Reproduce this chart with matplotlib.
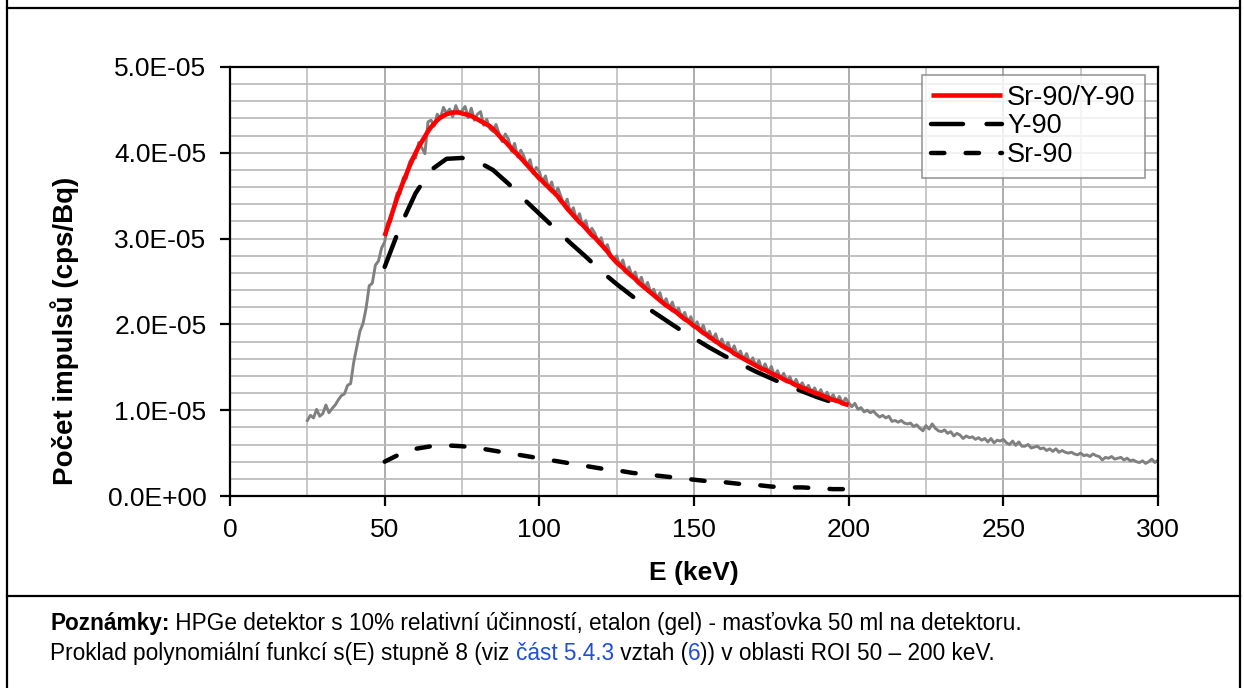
import numpy as np
import matplotlib
matplotlib.use('Agg')
import matplotlib.pyplot as plt
from matplotlib.lines import Line2D
from matplotlib.ticker import MultipleLocator, FuncFormatter

plt.rcParams['font.family'] = ['Liberation Sans', 'DejaVu Sans']

# measured spectrum, 1 keV channels from 25 to 300 keV (values in 1e-6 cps/Bq)
e_meas = np.arange(25, 301)
s_meas = [
    8.8, 9.4, 9.1, 10.1, 9.3, 9.6, 10.6, 9.7, 10.2, 10.6,
    11.2, 11.7, 11.9, 12.9, 13.1, 15.6, 17.4, 19.2, 20.1, 21.9,
    24.5, 24.8, 26.9, 27.4, 28.9,
    29.6, 31.8, 32.0, 33.9, 35.3, 35.2, 37.1, 37.0, 38.9, 39.5,
    39.4, 41.2, 40.6, 39.9, 43.6, 43.8, 43.1, 44.5, 44.0, 45.3,
    44.6, 45.1, 44.2, 45.5, 44.6, 44.9, 45.4, 44.1, 45.2, 43.8,
    44.5, 44.8, 43.2, 43.9, 42.8,
    42.5, 43.3, 42.2, 41.3, 42.2, 41.6, 40.2, 41.1, 39.5, 40.3,
    39.6, 38.5, 39.2, 37.6, 38.3, 37.8, 36.6, 37.3, 35.8, 36.6,
    35.1, 35.9, 34.9, 33.8, 34.6, 33.0, 33.6, 32.2, 32.9, 31.5,
    32.1, 30.7, 31.2, 30.6, 29.6, 30.1, 28.8, 29.3, 28.1, 27.5,
    28.0, 26.8, 27.5, 26.1, 26.7, 25.6, 26.1, 24.8, 25.5, 24.2,
    24.9, 23.7, 24.1, 23.0, 23.7, 22.4, 23.0, 21.9, 22.6, 21.4,
    21.9, 20.8, 21.4, 20.3, 20.9, 19.7, 20.3, 19.2, 19.9, 18.7,
    19.2, 18.2, 18.9, 17.7, 18.3, 17.2, 17.9, 16.8, 17.5, 16.4,
    16.9, 15.9, 16.6, 15.5, 16.1, 15.1, 15.8, 14.7, 15.4, 14.4,
    15.1, 14.0, 14.6, 13.7, 14.3, 13.4, 13.9, 13.0, 13.6, 12.7,
    13.2, 12.4, 12.9, 12.1, 12.6, 11.8, 12.4, 11.5, 12.1, 11.3,
    11.8, 11.0, 11.6, 10.8, 11.4, 10.9,
    10.4, 10.8, 10.1, 10.3, 9.8, 10.0, 9.7, 9.9, 9.5, 9.2,
    9.4, 9.1, 9.3, 8.7, 8.8, 8.6, 8.8, 8.5, 8.4, 8.5,
    8.1, 8.3, 7.9, 7.6, 8.2, 7.8, 8.4, 7.9, 7.6, 7.5,
    7.7, 7.3, 7.5, 7.0, 7.3, 7.1, 6.7, 7.0, 6.8, 6.9,
    6.6, 6.8, 6.5, 6.7, 6.3, 6.7, 6.2, 6.5, 6.4, 6.6,
    6.2, 6.0, 6.4, 5.9, 6.3, 5.8, 5.8, 6.0, 5.6, 5.7,
    5.8, 5.5, 5.6, 5.3, 5.5, 5.2, 5.5, 5.1, 5.3, 5.1,
    5.0, 5.1, 4.9, 4.8, 5.0, 4.7, 4.8, 4.6, 4.9, 4.7,
    4.6, 4.2, 4.5, 4.4, 4.6, 4.3, 4.4, 4.5, 4.2, 4.4,
    4.1, 4.2, 4.0, 3.9, 4.1, 3.8, 4.0, 4.3, 3.9, 4.2,
]

# polynomial fit Sr-90/Y-90, 1 keV steps from 50 to 200 keV
e_fit = np.arange(50, 201)
s_fit = [
    30.3, 31.4, 32.5, 33.6, 34.7, 35.7, 36.6, 37.5, 38.4, 39.2,
    40.0, 40.7, 41.3, 41.9, 42.5, 43.0, 43.4, 43.8, 44.1, 44.3,
    44.5, 44.6, 44.7, 44.7, 44.7, 44.6, 44.5, 44.4, 44.3, 44.1,
    43.9, 43.7, 43.5, 43.3, 43.1, 42.8, 42.4, 42.0, 41.6, 41.3,
    40.9, 40.5, 40.1, 39.8, 39.4, 39.0, 38.6, 38.2, 37.8, 37.4,
    37.0, 36.7, 36.3, 36.0, 35.6, 35.3, 34.9, 34.4, 34.0, 33.5,
    33.1, 32.7, 32.3, 31.9, 31.6, 31.2, 30.8, 30.4, 30.1, 29.7,
    29.3, 28.9, 28.5, 28.0, 27.6, 27.2, 26.9, 26.6, 26.2, 25.9,
    25.6, 25.3, 24.9, 24.6, 24.3, 24.0, 23.7, 23.4, 23.1, 22.8,
    22.5, 22.2, 22.0, 21.7, 21.5, 21.2, 20.9, 20.6, 20.4, 20.1,
    19.8, 19.6, 19.3, 19.0, 18.8, 18.5, 18.3, 18.0, 17.8, 17.5,
    17.3, 17.1, 16.9, 16.6, 16.4, 16.2, 16.0, 15.8, 15.6, 15.4,
    15.2, 15.0, 14.8, 14.7, 14.5, 14.3, 14.1, 14.0, 13.8, 13.6,
    13.4, 13.3, 13.1, 12.9, 12.8, 12.6, 12.5, 12.3, 12.2, 12.0,
    11.9, 11.8, 11.6, 11.5, 11.3, 11.2, 11.1, 11.0, 10.8, 10.7,
    10.6,
]

# components, 5 keV steps
e_comp = np.arange(50, 201, 5)
s_y90 = [26.7, 31.4, 35.3, 38.0, 39.3, 39.4, 39.0, 38.0, 36.4, 34.6,
         32.9, 31.2, 29.5, 27.9, 26.2, 24.7, 23.3, 21.9, 20.7, 19.5,
         18.4, 17.3, 16.3, 15.4, 14.5, 13.7, 12.9, 12.2, 11.5, 10.9, 10.3]
s_sr90 = [4.0, 4.9, 5.5, 5.8, 5.9, 5.8, 5.6, 5.3, 5.0, 4.7,
          4.4, 4.1, 3.8, 3.5, 3.2, 3.0, 2.7, 2.5, 2.3, 2.1,
          1.9, 1.7, 1.6, 1.4, 1.3, 1.1, 1.0, 1.0, 0.9, 0.8, 0.8]

scale = 1e-6

W, H = 1244, 688
fig = plt.figure(figsize=(W / 100, H / 100), dpi=100)
fig.patch.set_facecolor('white')

# table cell borders
def hline(ypx, x0, x1):
    fig.add_artist(Line2D([x0 / W, x1 / W], [1 - ypx / H, 1 - ypx / H],
                          color='black', lw=1.6))

def vline(xpx, y0, y1):
    fig.add_artist(Line2D([xpx / W, xpx / W], [1 - y0 / H, 1 - y1 / H],
                          color='black', lw=1.6))

hline(8, 7, 1240)
hline(596, 7, 1240)
vline(7, 0, 688)
vline(1240, 0, 688)

ax = fig.add_axes([230 / W, 1 - 496 / H, 928 / W, 429 / H])

ax.set_xlim(0, 300)
ax.set_ylim(0, 5e-5)

# grid
ax.xaxis.set_major_locator(MultipleLocator(50))
ax.yaxis.set_major_locator(MultipleLocator(1e-5))
for xv in np.arange(25, 300, 25):
    c = '#A6A6A6' if xv % 50 == 0 else '#C4C4C4'
    ax.axvline(xv, color=c, lw=1.3, zorder=0)
for yv in np.arange(2e-6, 5e-5, 2e-6):
    ax.axhline(yv, color='#BDBDBD', lw=1.3, zorder=0)

ax.plot(e_meas, np.array(s_meas) * scale, color='#808080', lw=2.1, zorder=2)
ax.plot(e_fit, np.array(s_fit) * scale, color='#FF0000', lw=3.3, zorder=4,
        solid_capstyle='butt', label='Sr-90/Y-90')
ax.plot(e_comp, np.array(s_y90) * scale, color='black', lw=3.2, zorder=3,
        dashes=(7.2, 5.3), dash_capstyle='round', label='Y-90')
ax.plot(e_comp, np.array(s_sr90) * scale, color='black', lw=3.2, zorder=3,
        dashes=(3.0, 4.8), dash_capstyle='round', label='Sr-90')

for s in ax.spines.values():
    s.set_color('black')
    s.set_linewidth(1.6)

ax.tick_params(axis='both', direction='out', length=7, width=1.6,
               labelsize=19, color='black')
ax.tick_params(axis='y', pad=10)
ax.tick_params(axis='x', pad=9)
ax.yaxis.set_major_formatter(FuncFormatter(lambda v, p: f'{v:.1E}'))

ax.set_xlabel('E (keV)', fontsize=19, fontweight='bold')
ax.set_ylabel('Počet impulsů (cps/Bq)', fontsize=20, fontweight='bold')
ax.xaxis.set_label_coords(0.5, -0.152)
ax.yaxis.set_label_coords(-0.163, 0.385)

leg = ax.legend(loc='upper right', bbox_to_anchor=(0.986, 0.981),
                borderaxespad=0, fontsize=19.5, frameon=True, fancybox=False,
                handlelength=2.6, handletextpad=0.2, labelspacing=0.1,
                borderpad=0.35)
leg.get_frame().set_edgecolor('#808080')
leg.get_frame().set_linewidth(1.2)

# notes under the chart, pieces placed one after another
renderer = fig.canvas.get_renderer()

def text_run(x0, ypx, pieces):
    x = x0
    for txt, color, weight in pieces:
        t = fig.text(x / W, 1 - ypx / H, txt, fontsize=16.3, color=color,
                     fontweight=weight, ha='left', va='baseline')
        bb = t.get_window_extent(renderer=renderer)
        x = x + bb.width

blue = '#1F4FD8'
text_run(50, 630, [('Poznámky:', 'black', 'bold'),
                   (' HPGe detektor s 10% relativní účinností, etalon (gel) - masťovka 50 ml na detektoru.', 'black', 'normal')])
text_run(50, 660, [('Proklad polynomiální funkcí s(E) stupně 8 (viz ', 'black', 'normal'),
                   ('část 5.4.3', blue, 'normal'),
                   (' vztah (', 'black', 'normal'),
                   ('6', blue, 'normal'),
                   (')) v oblasti ROI 50 – 200 keV.', 'black', 'normal')])

fig.savefig('out.png', dpi=100, facecolor='white')
